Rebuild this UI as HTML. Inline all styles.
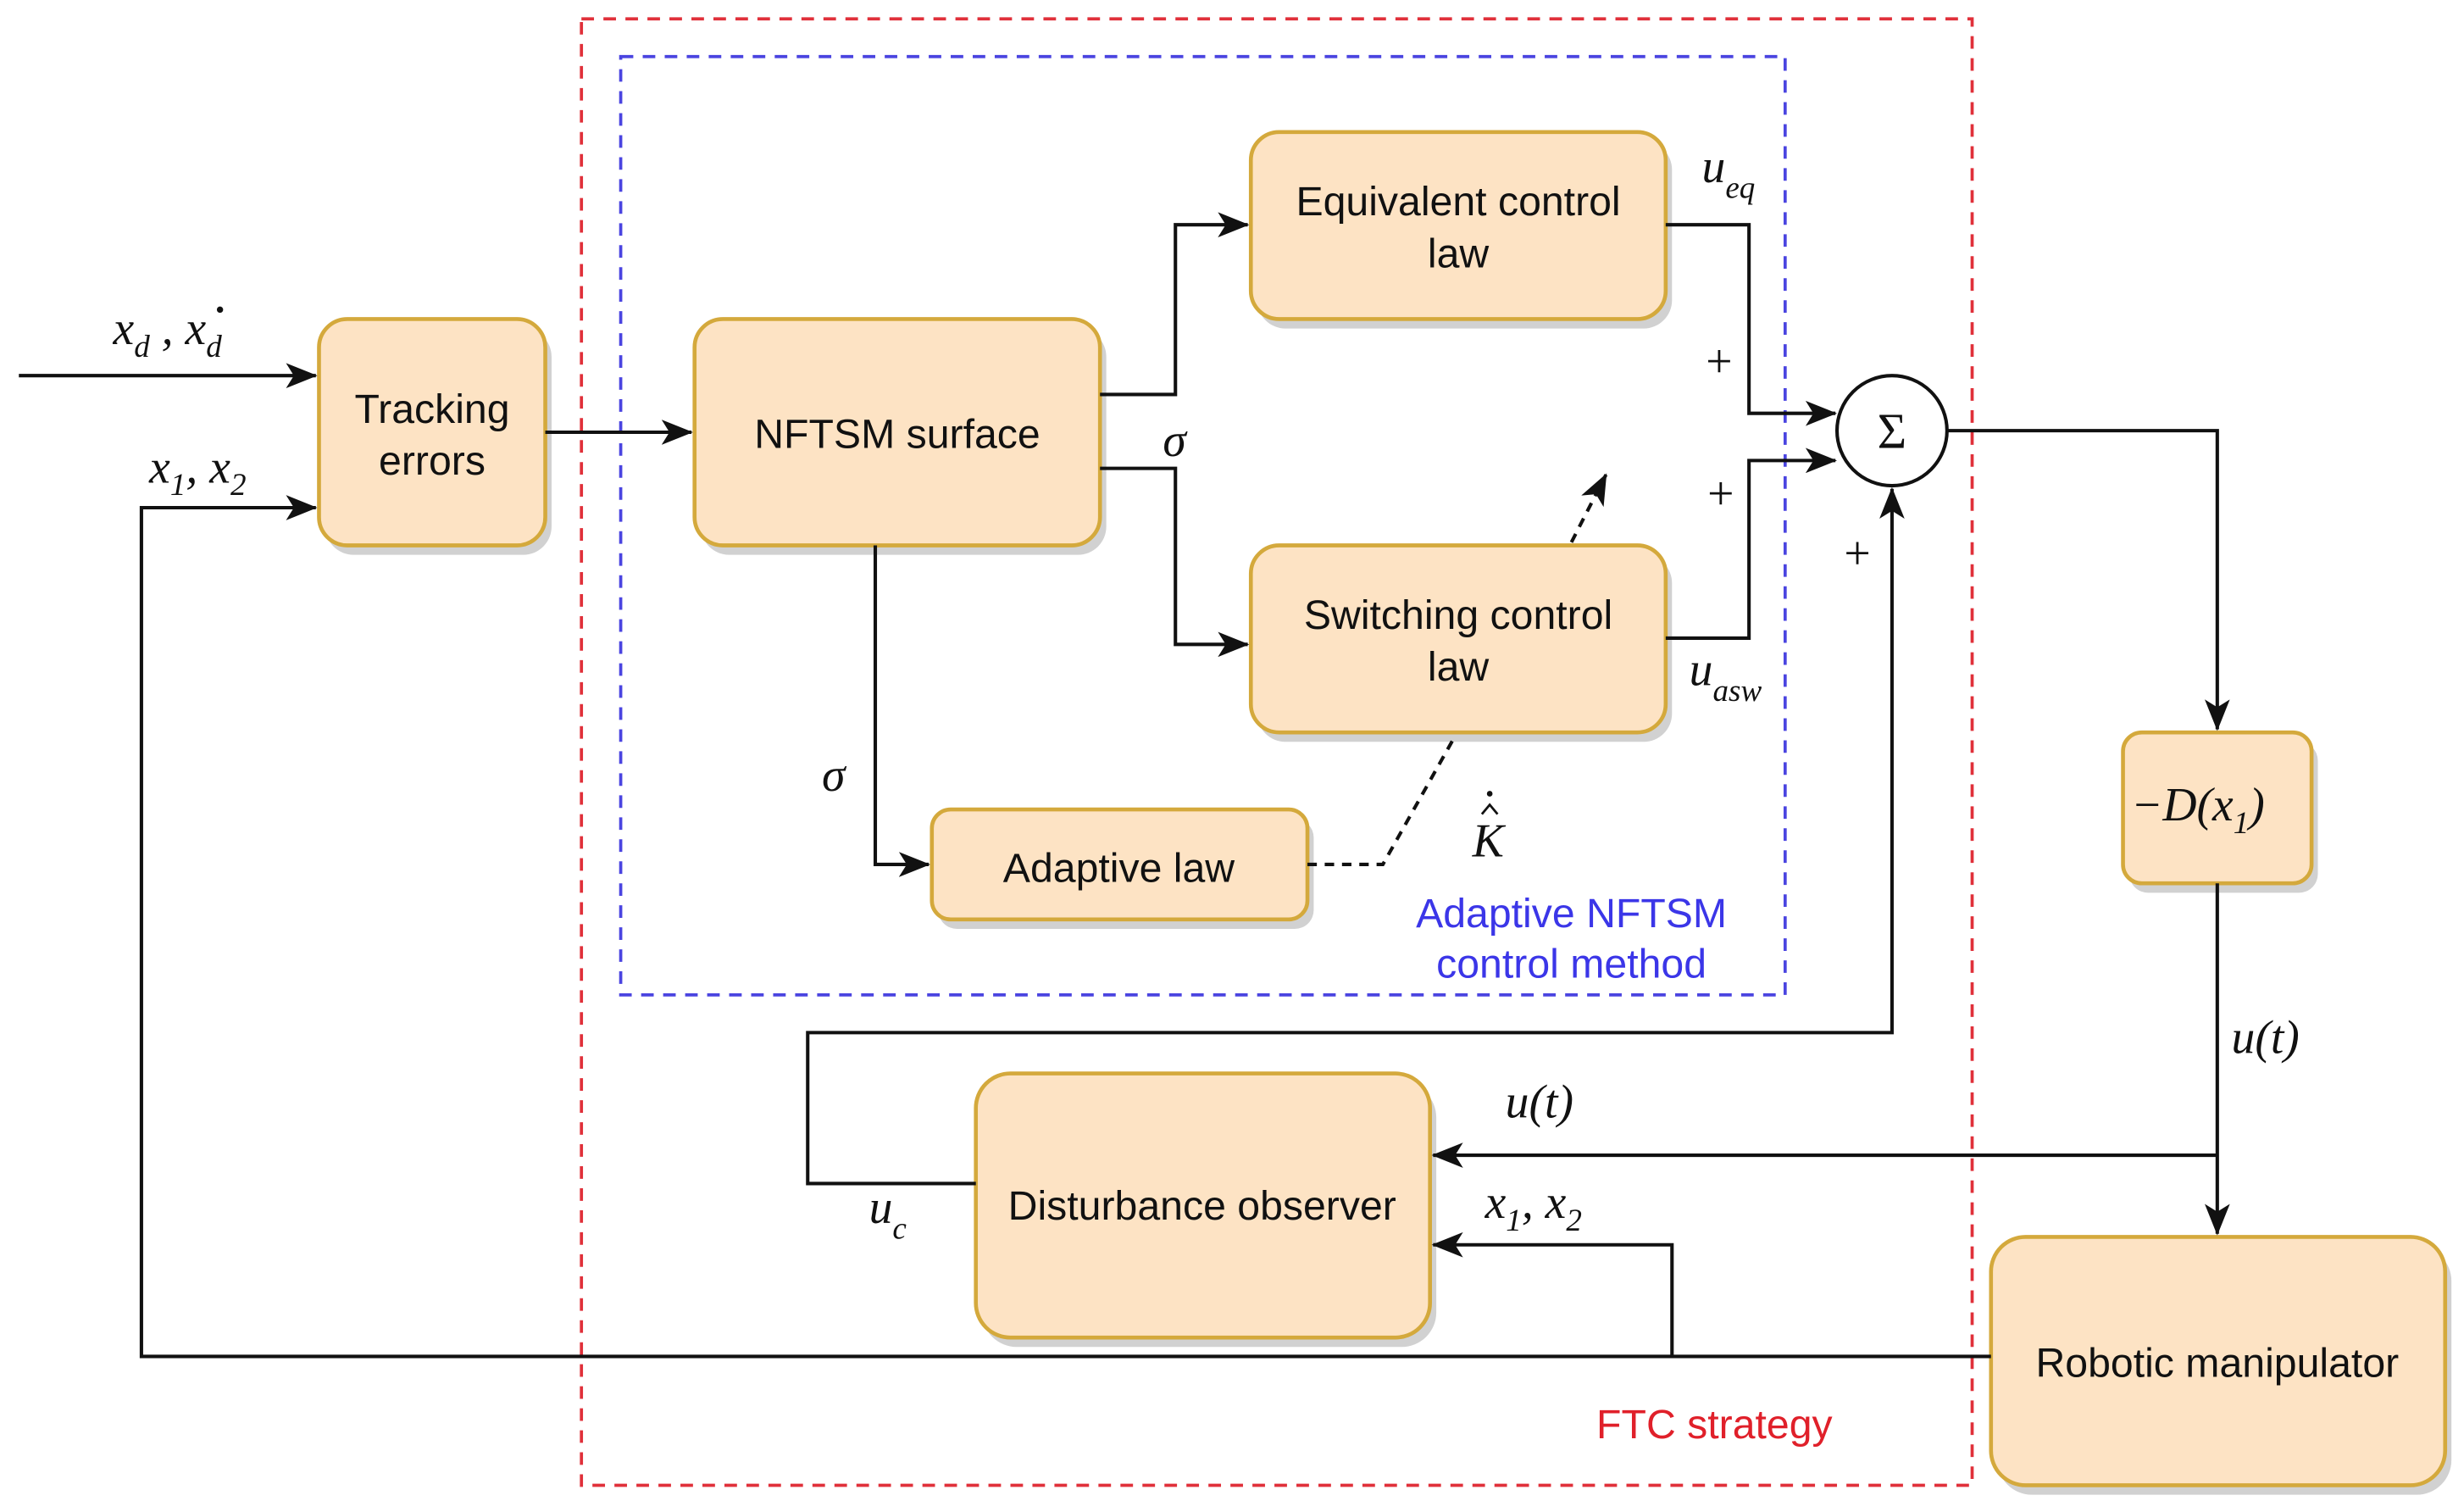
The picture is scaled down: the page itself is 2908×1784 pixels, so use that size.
<!DOCTYPE html>
<html><head><meta charset="utf-8"><style>
html,body{margin:0;padding:0;background:#fff;}
svg{display:block;}
.bx{fill:#fde3c4;stroke:#d4a93c;stroke-width:2.5;}
.sh{fill:#bdbdbd;opacity:.7;}
.t{font-family:"Liberation Sans",sans-serif;font-size:26px;fill:#111;text-anchor:middle;}
.m{font-family:"Liberation Serif",serif;font-style:italic;font-size:30px;fill:#111;}
.s{font-size:20px;}
.ln{fill:none;stroke:#111;stroke-width:2.2;}
</style></head><body>
<svg width="2908" height="1784" viewBox="0 0 1568 962" preserveAspectRatio="none" xmlns="http://www.w3.org/2000/svg">
<defs>
<marker id="ar" viewBox="0 0 20 16" refX="19" refY="8" markerWidth="20" markerHeight="16" orient="auto" markerUnits="userSpaceOnUse"><path d="M0,0 L20,8 L0,16 L5,8 Z" fill="#111"/></marker>
</defs>
<rect x="370" y="12" width="885" height="933" fill="none" stroke="#e0303a" stroke-width="2" stroke-dasharray="8,6"/>
<rect x="395" y="36" width="741" height="597" fill="none" stroke="#4a44e0" stroke-width="2" stroke-dasharray="8,6"/>
<rect class="sh" x="207" y="209" width="144" height="144" rx="18"/>
<rect class="sh" x="446" y="209" width="258" height="144" rx="18"/>
<rect class="sh" x="800" y="90" width="264" height="119" rx="18"/>
<rect class="sh" x="800" y="353" width="264" height="119" rx="18"/>
<rect class="sh" x="597" y="521" width="239" height="70" rx="12"/>
<rect class="sh" x="1355" y="472" width="120" height="96" rx="12"/>
<rect class="sh" x="625" y="689" width="289" height="168" rx="22"/>
<rect class="sh" x="1271" y="793" width="289" height="158" rx="22"/>
<rect class="bx" x="203" y="203" width="144" height="144" rx="18"/>
<rect class="bx" x="442" y="203" width="258" height="144" rx="18"/>
<rect class="bx" x="796" y="84" width="264" height="119" rx="18"/>
<rect class="bx" x="796" y="347" width="264" height="119" rx="18"/>
<rect class="bx" x="593" y="515" width="239" height="70" rx="12"/>
<rect class="bx" x="1351" y="466" width="120" height="96" rx="12"/>
<rect class="bx" x="621" y="683" width="289" height="168" rx="22"/>
<rect class="bx" x="1267" y="787" width="289" height="158" rx="22"/>
<circle cx="1204" cy="274" r="35" fill="#fff" stroke="#111" stroke-width="2.2"/>
<text x="1204" y="285" class="t" style="font-family:'Liberation Serif',serif;font-size:32px">Σ</text>
<text class="t" x="275" y="269">Tracking</text><text class="t" x="275" y="302">errors</text>
<text class="t" x="571" y="285">NFTSM surface</text>
<text class="t" x="928" y="137">Equivalent control</text><text class="t" x="928" y="170">law</text>
<text class="t" x="928" y="400">Switching control</text><text class="t" x="928" y="433">law</text>
<text class="t" x="712" y="561">Adaptive law</text>
<text class="t" x="765" y="776">Disturbance observer</text>
<text class="t" x="1411" y="876">Robotic manipulator</text>
<text class="m" x="1356" y="522">−D(x<tspan class="s" dy="8">1</tspan><tspan dy="-8">)</tspan></text>
<path class="ln" d="M12,239 H201" marker-end="url(#ar)"/>
<path class="ln" d="M1267,863 H90 V323 H201" marker-end="url(#ar)"/>
<path class="ln" d="M347,275 H440" marker-end="url(#ar)"/>
<path class="ln" d="M700,251 H748 V143 H794" marker-end="url(#ar)"/>
<path class="ln" d="M700,298 H748 V410 H794" marker-end="url(#ar)"/>
<path class="ln" d="M557,347 V550 H591" marker-end="url(#ar)"/>
<path class="ln" d="M1060,143 H1113 V263 H1168" marker-end="url(#ar)"/>
<path class="ln" d="M1060,406 H1113 V293 H1168" marker-end="url(#ar)"/>
<path class="ln" d="M1239,274 H1411 V464" marker-end="url(#ar)"/>
<path class="ln" d="M621,753 H514 V657 H1204 V311" marker-end="url(#ar)"/>
<path class="ln" d="M1411,562 V785" marker-end="url(#ar)"/>
<path class="ln" d="M1411,735 H912" marker-end="url(#ar)"/>
<path class="ln" d="M1064,863 V792 H912" marker-end="url(#ar)"/>
<path class="ln" d="M832,550 H880 L925,470" stroke-dasharray="6,5"/>
<path class="ln" d="M1000,345 L1022,302" stroke-dasharray="6,5" marker-end="url(#ar)"/>
<text class="m" x="72" y="219">x<tspan class="s" dy="8">d</tspan><tspan dy="-8"> , x</tspan><tspan class="s" dy="8">d</tspan></text>
<circle cx="140" cy="197" r="2" fill="#111"/>
<text class="m" x="95" y="307">x<tspan class="s" dy="8">1</tspan><tspan dy="-8">, x</tspan><tspan class="s" dy="8">2</tspan></text>
<text class="m" x="740" y="290">σ</text>
<text class="m" x="523" y="503">σ</text>
<text class="m" x="1083" y="116">u<tspan class="s" dy="10">eq</tspan></text>
<text class="m" x="1075" y="436">u<tspan class="s" dy="10">asw</tspan></text>
<text class="t" x="1094" y="240" style="font-family:'Liberation Serif',serif;font-size:30px">+</text>
<text class="t" x="1095" y="324" style="font-family:'Liberation Serif',serif;font-size:30px">+</text>
<text class="t" x="1182" y="362" style="font-family:'Liberation Serif',serif;font-size:30px">+</text>
<text class="m" x="937" y="545">K</text>
<path d="M943,518 L948,512 L953,518" fill="none" stroke="#111" stroke-width="1.5"/>
<circle cx="948" cy="505" r="1.8" fill="#111"/>
<text class="m" x="1420" y="670">u(t)</text>
<text class="m" x="958" y="711">u(t)</text>
<text class="m" x="945" y="775">x<tspan class="s" dy="8">1</tspan><tspan dy="-8">, x</tspan><tspan class="s" dy="8">2</tspan></text>
<text class="m" x="553" y="778">u<tspan class="s" dy="10">c</tspan></text>
<text class="t" x="1000" y="590" style="fill:#3b36e8">Adaptive NFTSM</text>
<text class="t" x="1000" y="622" style="fill:#3b36e8">control method</text>
<text class="t" x="1091" y="915" style="fill:#e0202a">FTC strategy</text>
</svg>
</body></html>
